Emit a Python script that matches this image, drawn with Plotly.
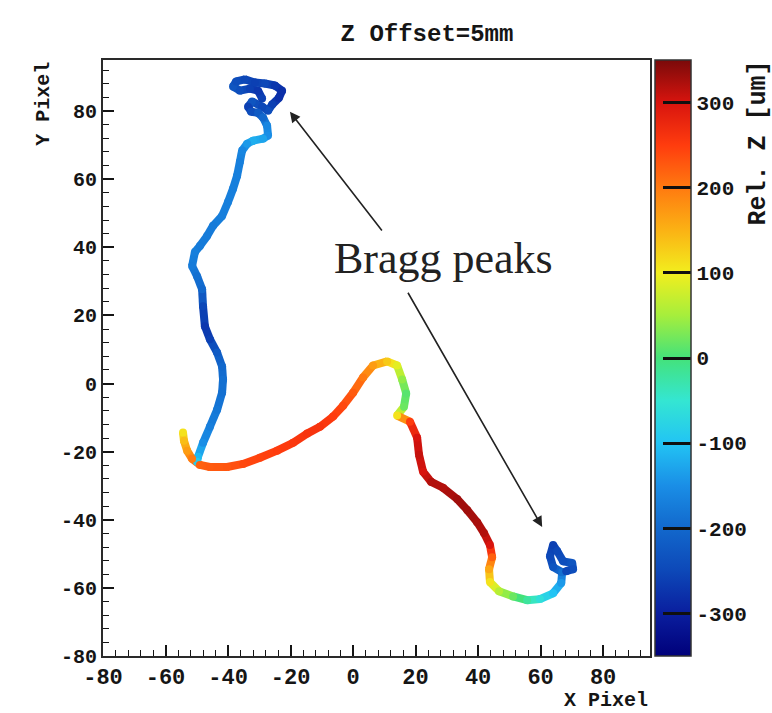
import plotly.graph_objects as go
from plotly.colors import sample_colorscale

# Track branch 1: upper Bragg peak, then the long arm running down the left side
arm1_x = [-29.1, -30.4, -33.0, -36.2, -38.4, -37.4, -34.6, -31.4, -28.2, -25.0,
          -22.7, -23.7, -25.9, -27.2, -29.1, -32.3, -33.6, -32.6, -30.4, -28.8,
          -27.5, -27.2, -28.8, -32.0, -33.9, -35.5, -36.2, -37.1, -38.4, -40.0,
          -41.9, -44.8, -46.7, -49.0, -50.6, -51.5, -49.9, -48.3, -48.0, -47.4,
          -45.8, -43.5, -41.9, -41.6, -41.9, -43.5, -45.8, -48.0, -49.6, -49.9]
arm1_y = [83.7, 86.0, 86.6, 86.0, 87.2, 88.7, 89.3, 88.4, 88.1, 87.5,
          86.0, 83.9, 81.9, 80.1, 81.3, 82.8, 81.3, 79.8, 79.5, 78.1,
          75.7, 72.8, 71.9, 71.3, 70.4, 68.4, 65.1, 61.0, 57.2, 53.3,
          49.2, 46.3, 43.3, 40.4, 38.6, 34.5, 31.5, 27.7, 22.7, 16.8,
          13.0, 9.1, 5.0, 1.2, -2.7, -7.7, -12.7, -17.4, -21.5, -23.0]
arm1_z = [-260, -270, -260, -240, -230, -240, -250, -260, -250, -270,
          -280, -280, -260, -240, -250, -230, -260, -240, -220, -200,
          -160, -150, -130, -120, -140, -160, -170, -170, -170, -170,
          -170, -175, -175, -175, -170, -175, -190, -200, -250, -270,
          -260, -220, -200, -190, -190, -180, -170, -150, -110, -90]

# Track branch 2: hook at the corner, bottom arc, descent and lower Bragg peak
arm2_x = [-54.4, -54.1, -53.1, -51.5, -49.0, -45.8, -40.3, -35.2, -29.8, -24.3,
          -19.2, -14.7, -10.6, -6.4, -3.2, 0.0, 3.2, 6.4, 10.9, 14.1,
          15.7, 17.0, 16.3, 14.1, 18.2, 20.5, 21.1, 22.4, 25.0, 28.8,
          33.3, 36.5, 39.7, 41.9, 43.8, 44.5, 43.5, 43.8, 46.7, 51.2,
          55.7, 59.8, 64.0, 66.6, 66.9, 64.0, 63.0, 64.0, 65.3, 67.2,
          70.1, 70.4, 68.2]
arm2_y = [-14.4, -16.8, -19.7, -22.1, -23.9, -24.5, -24.5, -23.6, -21.8, -19.7,
          -17.4, -14.7, -12.7, -9.7, -6.5, -2.7, 1.8, 5.3, 6.5, 5.3,
          1.2, -2.9, -6.8, -9.4, -11.2, -15.9, -20.9, -25.9, -28.9, -30.6,
          -33.9, -37.1, -40.7, -43.9, -47.4, -51.0, -54.5, -58.3, -61.0, -62.5,
          -63.6, -63.3, -61.6, -58.6, -55.4, -53.9, -50.7, -47.4, -49.2, -52.2,
          -52.7, -54.5, -55.1]
arm2_z = [110, 140, 170, 200, 220, 225, 230, 240, 245, 250,
          255, 260, 260, 250, 240, 225, 200, 170, 130, 90,
          40, 10, 20, 110, 250, 300, 310, 300, 320, 320,
          330, 330, 325, 320, 300, 220, 160, 110, 60, 20,
          -20, -60, -100, -140, -190, -230, -250, -260, -250, -240,
          -230, -240, -250]

x_ticks = [-80, -60, -40, -20, 0, 20, 40, 60, 80]
x_tick_text = ["-80", "-60", "-40", "-20", "0", "20", "40", "60", "80"]
y_ticks = [-80, -60, -40, -20, 0, 20, 40, 60, 80]
y_tick_text = ["-80", "-60", "-40", "-20", "0", "20", "40", "60", "80"]
z_ticks = [-300, -200, -100, 0, 100, 200, 300]
z_tick_text = ["-300", "-200", "-100", "0", "100", "200", "300"]

AX_MIN, AX_MAX = -80, 95
Z_MIN, Z_MAX = -350, 350
minor_ticks = list(range(AX_MIN, AX_MAX + 1, 4))

# rainbow palette, stops given in z units
palette = [(-350, "#00007a"), (-300, "#0a1e9e"), (-250, "#0d48b8"), (-200, "#1268cc"),
           (-150, "#1a8ee6"), (-100, "#22c4f4"), (-50, "#34e6d2"), (0, "#44e27a"),
           (50, "#a6ee3c"), (100, "#f2ee1e"), (150, "#fbb214"), (200, "#ff7a10"),
           (250, "#ff3c0e"), (300, "#d8140e"), (350, "#7a0a0a")]
colorscale = [[(z - Z_MIN) / (Z_MAX - Z_MIN), c] for z, c in palette]

MONO = "Liberation Mono"
INK = "#151515"

fig = go.Figure()

# coloured line segments between consecutive track points
for xs, ys, zs in [(arm1_x, arm1_y, arm1_z), (arm2_x, arm2_y, arm2_z)]:
    for i in range(len(xs) - 1):
        zmid = 0.5 * (zs[i] + zs[i + 1])
        col = sample_colorscale(colorscale, [(zmid - Z_MIN) / (Z_MAX - Z_MIN)])[0]
        fig.add_trace(go.Scatter(
            x=[xs[i], xs[i + 1]], y=[ys[i], ys[i + 1]], mode="lines",
            line=dict(color=col, width=8), showlegend=False, hoverinfo="skip"))

# track points, which also carry the colour bar
fig.add_trace(go.Scatter(
    x=arm1_x + arm2_x, y=arm1_y + arm2_y, mode="markers", showlegend=False,
    marker=dict(
        size=8, color=arm1_z + arm2_z, colorscale=colorscale, cmin=Z_MIN, cmax=Z_MAX,
        line=dict(width=0),
        colorbar=dict(
            thickness=36, thicknessmode="pixels", len=1, lenmode="fraction",
            x=1.01, xanchor="left", y=0.5, yanchor="middle", xpad=0, ypad=0,
            outlinecolor="#333333", outlinewidth=1.5,
            tickmode="array", tickvals=z_ticks, ticktext=z_tick_text,
            ticks="inside", ticklen=28, tickwidth=2.5, tickcolor="#101010",
            tickfont=dict(family=MONO, size=21, color=INK, weight="bold"),
        ),
    ),
))

axis_common = dict(
    showgrid=False, zeroline=False, showline=True, linecolor="#2a2a2a", linewidth=1.8,
    mirror=True, ticks="inside", ticklen=11, tickwidth=1.6, tickcolor=INK,
    range=[AX_MIN, AX_MAX],
    minor=dict(ticks="inside", ticklen=6, tickwidth=1.3, tickcolor=INK,
               tickmode="array", tickvals=minor_ticks),
)

fig.update_xaxes(
    **axis_common,
    tickmode="array", tickvals=x_ticks, ticktext=x_tick_text,
    tickfont=dict(family=MONO, size=22, color=INK, weight="bold"),
)
fig.update_yaxes(
    **axis_common,
    tickmode="array", tickvals=y_ticks, ticktext=y_tick_text,
    tickfont=dict(family=MONO, size=20, color=INK, weight="bold"),
)

annotations = [
    # axis titles
    dict(text="<b>X Pixel</b>", xref="paper", yref="paper", x=1.0, y=-0.074,
         xanchor="right", yanchor="middle", showarrow=False,
         font=dict(family=MONO, size=20, color=INK)),
    dict(text="<b>Y Pixel</b>", xref="paper", yref="paper", x=-0.11, y=1.0,
         xanchor="center", yanchor="top", textangle=-90, showarrow=False,
         font=dict(family=MONO, size=20, color=INK)),
    dict(text="<b>Rel. Z [um]</b>", xref="paper", yref="paper", x=1.199, y=1.003,
         xanchor="center", yanchor="top", textangle=-90, showarrow=False,
         font=dict(family=MONO, size=25, color=INK)),
    # label and arrows pointing at the two Bragg peaks
    dict(text="Bragg peaks", xref="x", yref="y", x=28.8, y=36.6,
         xanchor="center", yanchor="middle", showarrow=False,
         font=dict(family="Liberation Serif", size=44, color="#222222")),
    dict(text="", xref="x", yref="y", axref="x", ayref="y",
         x=-20.2, y=79.8, ax=9.6, ay=44.5, showarrow=True,
         arrowhead=2, arrowsize=1.3, arrowwidth=1.6, arrowcolor="#222222"),
    dict(text="", xref="x", yref="y", axref="x", ayref="y",
         x=60.5, y=-42.1, ax=17.3, ay=27.1, showarrow=True,
         arrowhead=2, arrowsize=1.3, arrowwidth=1.6, arrowcolor="#222222"),
]

fig.update_layout(
    width=772, height=713,
    margin=dict(l=103, r=122, t=60, b=57, autoexpand=False),
    paper_bgcolor="white", plot_bgcolor="white",
    title=dict(text="<b>Z Offset=5mm</b>", x=427 / 772, xanchor="center",
               y=1 - 33 / 713, yanchor="middle",
               font=dict(family=MONO, size=24, color=INK)),
    annotations=annotations,
    showlegend=False,
)

fig.write_html("out.html")
